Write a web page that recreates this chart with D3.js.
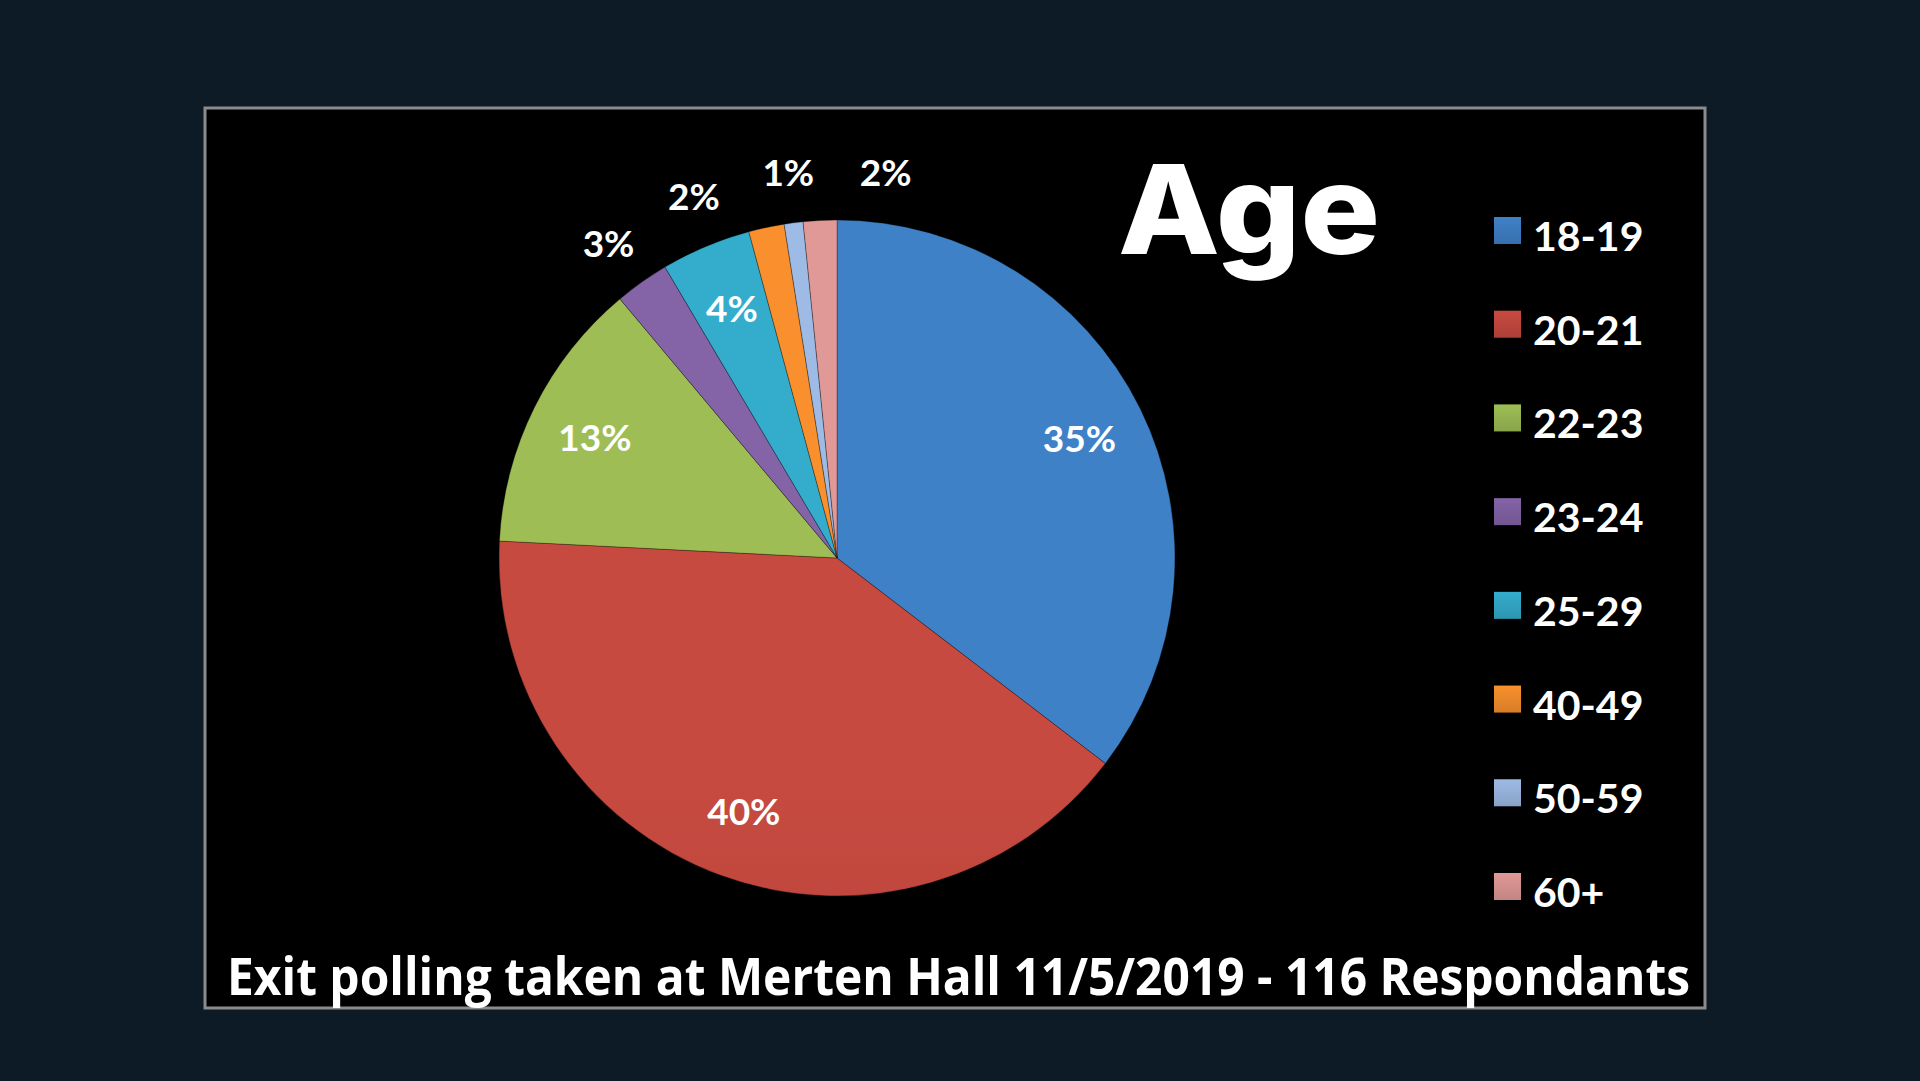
<!DOCTYPE html>
<html>
<head>
<meta charset="utf-8">
<script src="https://cdn.jsdelivr.net/npm/d3@7"></script>
<style>
  html, body { margin: 0; padding: 0; background: #0c1b25; overflow: hidden; }
  svg { display: block; }
</style>
</head>
<body>
<div id="chart"></div>
<script>
// age groups, clockwise from 12 o'clock
const ageGroups = ["18-19", "20-21", "22-23", "23-24", "25-29", "40-49", "50-59", "60+"];
// share of respondents in percent
const shares = [35.4, 40.4, 13.1, 2.6, 4.3, 1.7, 0.9, 1.6];
const sliceColors = ["#3d7cc0", "#c0473e", "#98b752", "#7f60a1", "#32a7c5", "#f08b2b", "#98b4dd", "#d89492"];
const title = "Age";
const footer = "Exit polling taken at Merten Hall 11/5/2019 - 116 Respondants";

const W = 1920, H = 1081;
const svg = d3.select("#chart").append("svg")
    .attr("width", W).attr("height", H)
    .attr("viewBox", `0 0 ${W} ${H}`);

svg.append("rect").attr("width", W).attr("height", H).attr("fill", "#0c1b25");

// black panel with grey frame
svg.append("rect")
    .attr("x", 205).attr("y", 108)
    .attr("width", 1500).attr("height", 900)
    .attr("fill", "#000")
    .attr("stroke", "#8c8c8c")
    .attr("stroke-width", 3);

const cx = 837, cy = 558, r = 338;
const data = ageGroups.map((g, i) => ({ group: g, share: shares[i], color: sliceColors[i] }));

const pie = d3.pie().sort(null).value(d => d.share);
const arcs = pie(data);
const arc = d3.arc().innerRadius(0).outerRadius(r);

// excel style vertical shading, one gradient per slice
const defs = svg.append("defs");
data.forEach((d, i) => {
    const g = defs.append("linearGradient")
        .attr("id", "grad" + i)
        .attr("gradientUnits", "userSpaceOnUse")
        .attr("x1", 0).attr("y1", cy - r).attr("x2", 0).attr("y2", cy + r);
    g.append("stop").attr("offset", "0%").attr("stop-color", d3.color(d.color).brighter(0.1));
    g.append("stop").attr("offset", "100%").attr("stop-color", d3.color(d.color).darker(0.45));
    const lg = defs.append("linearGradient")
        .attr("id", "lgrad" + i)
        .attr("x1", 0).attr("y1", 0).attr("x2", 0).attr("y2", 1);
    lg.append("stop").attr("offset", "0%").attr("stop-color", d3.color(d.color).brighter(0.1));
    lg.append("stop").attr("offset", "100%").attr("stop-color", d3.color(d.color).darker(0.3));
});

const pieG = svg.append("g").attr("transform", `translate(${cx},${cy})`);
pieG.selectAll("path")
    .data(arcs)
    .enter()
    .append("path")
    .attr("d", arc)
    .attr("fill", (d, i) => `url(#grad${i})`)
    .attr("stroke", "rgba(0,0,0,0.3)")
    .attr("stroke-width", 1);

// labels: big slices inside, small ones outside and spread apart
const deg = Math.PI / 180;
const inside = arcs.filter(d => d.data.share >= 3.5);
const outside = arcs.filter(d => d.data.share < 3.5);
const outAngles = outside.map(d => (d.startAngle + d.endAngle) / 2 / deg);
const gap = 14.4;
for (let k = 0; k < 300; k++) {
    for (let i = 1; i < outAngles.length; i++) {
        const diff = outAngles[i] - outAngles[i - 1];
        if (diff < gap) {
            const m = (gap - diff) / 2;
            outAngles[i - 1] -= m;
            outAngles[i] += m;
        }
    }
}
const labelText = d => Math.round(d.data.share) + "%";
const labelFont = "'Lato', 'Open Sans', sans-serif";

pieG.selectAll("text.in")
    .data(inside)
    .enter()
    .append("text")
    .attr("class", "in")
    .attr("transform", d => {
        const a = (d.startAngle + d.endAngle) / 2;
        return `translate(${Math.sin(a) * r * 0.8},${-Math.cos(a) * r * 0.8})`;
    })
    .attr("dy", "0.36em")
    .attr("text-anchor", "middle")
    .attr("fill", "#fff")
    .style("font-family", labelFont)
    .style("font-weight", 700)
    .style("font-size", "37px")
    .text(labelText);

pieG.selectAll("text.out")
    .data(outside)
    .enter()
    .append("text")
    .attr("class", "out")
    .attr("transform", (d, i) => {
        const a = outAngles[i] * deg;
        return `translate(${Math.sin(a) * r * 1.15},${-Math.cos(a) * r * 1.15})`;
    })
    .attr("dy", "0.36em")
    .attr("text-anchor", "middle")
    .attr("fill", "#fff")
    .style("font-family", labelFont)
    .style("font-weight", 700)
    .style("font-size", "37px")
    .text(labelText);

// title
svg.append("text")
    .attr("x", 1118).attr("y", 254)
    .attr("textLength", 262)
    .attr("lengthAdjust", "spacingAndGlyphs")
    .attr("fill", "#fff")
    .style("font-family", "'Inter', sans-serif")
    .style("font-weight", 800)
    .style("font-size", "124px")
    .text(title);

// legend
const legendY = d3.scalePoint().domain(ageGroups).range([231, 887]);
const legend = svg.append("g").selectAll("g")
    .data(data)
    .enter()
    .append("g")
    .attr("transform", d => `translate(1494,${legendY(d.group)})`);
legend.append("rect")
    .attr("x", 0).attr("y", -14)
    .attr("width", 27).attr("height", 27)
    .attr("fill", (d, i) => `url(#lgrad${i})`);
legend.append("text")
    .attr("x", 39).attr("y", 20)
    .attr("fill", "#fff")
    .style("font-family", labelFont)
    .style("font-weight", 700)
    .style("font-size", "41px")
    .text(d => d.group);

// footer
svg.append("text")
    .attr("x", 227).attr("y", 995)
    .attr("textLength", 1463)
    .attr("lengthAdjust", "spacingAndGlyphs")
    .attr("fill", "#fff")
    .style("font-family", "'Open Sans', sans-serif")
    .style("font-weight", 700)
    .style("font-size", "52px")
    .text(footer);
</script>
</body>
</html>
